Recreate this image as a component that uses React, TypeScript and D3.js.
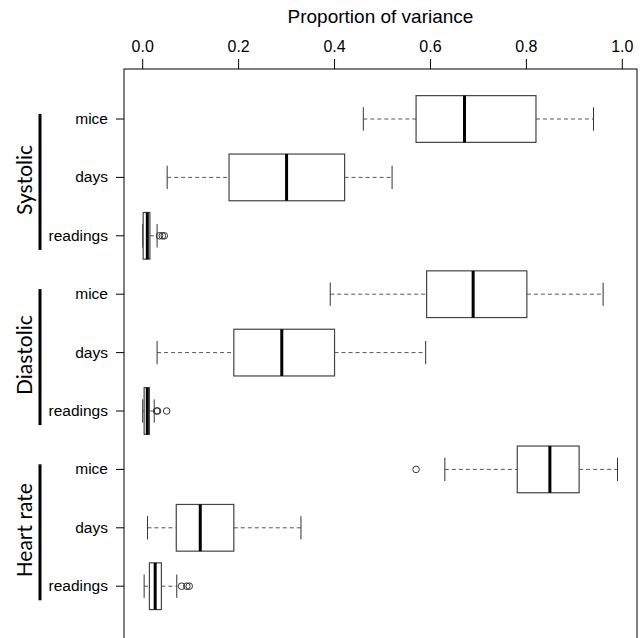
import React from "react";
import * as d3 from "d3";

// groups and rows (top to bottom)
const groups = ["Systolic", "Diastolic", "Heart rate"];
const categories = ["mice", "days", "readings"];

// five-number summaries per row: [lower whisker, Q1, median, Q3, upper whisker]
const whiskLo = [0.46, 0.051, 0.0, 0.391, 0.03, 0.0, 0.63, 0.01, 0.003];
const q1 = [0.57, 0.18, 0.001, 0.592, 0.19, 0.003, 0.781, 0.07, 0.014];
const medians = [0.671, 0.3, 0.0096, 0.689, 0.29, 0.0096, 0.849, 0.12, 0.026];
const q3 = [0.82, 0.421, 0.015, 0.801, 0.4, 0.014, 0.91, 0.19, 0.039];
const whiskHi = [0.94, 0.52, 0.03, 0.96, 0.59, 0.024, 0.99, 0.33, 0.071];
const outliers = [
  [],
  [],
  [0.035, 0.041, 0.045],
  [],
  [],
  [0.029, 0.031, 0.05],
  [0.57],
  [],
  [0.081, 0.092, 0.097],
];

const xTicks = [0, 0.2, 0.4, 0.6, 0.8, 1.0];

export default function App() {
  const W = 642;
  const H = 638;
  const left = 124;
  const right = 637;
  const top = 69;
  const rowStep = 58.4;

  const x = d3.scaleLinear().domain([0, 1]).range([142.7, 622.3]);
  const y = d3.scaleLinear().domain([0, 8]).range([119, 119 + 8 * rowStep]);
  const boxH = rowStep * 0.8;
  const fmt = d3.format(".1f");

  const rows = groups.flatMap((g) => categories.map((c) => ({ g, c })));

  return (
    <svg
      width={W}
      height={H}
      style={{ position: "absolute", left: 0, top: 0, background: "#fff" }}
      fontFamily="'Liberation Sans', Arial, sans-serif"
    >
      {/* title */}
      <text x={(left + right) / 2} y={23} textAnchor="middle" fontSize={19} fill="#000">
        Proportion of variance
      </text>

      {/* top axis */}
      {xTicks.map((t) => (
        <g key={t}>
          <line x1={x(t)} x2={x(t)} y1={59} y2={top} stroke="#000" />
          <text x={x(t)} y={52} textAnchor="middle" fontSize={16} fill="#000">
            {fmt(t)}
          </text>
        </g>
      ))}

      {/* plot frame */}
      <rect x={left} y={top} width={right - left} height={H + 10 - top} fill="none" stroke="#000" />

      {/* row ticks and labels */}
      {rows.map((r, i) => (
        <g key={i}>
          <line x1={116} x2={left} y1={y(i)} y2={y(i)} stroke="#000" />
          <text x={108} y={y(i) + 5} textAnchor="end" fontSize={15.5} fill="#000">
            {r.c}
          </text>
        </g>
      ))}

      {/* group labels */}
      {groups.map((g, gi) => {
        const cy = y(gi * 3 + 1) + 2.5;
        return (
          <g key={g}>
            <line x1={40} x2={40} y1={cy - 66} y2={cy + 70} stroke="#000" strokeWidth={3} />
            <text
              transform={`translate(32,${cy}) rotate(-90)`}
              textAnchor="middle"
              fontSize={21}
              fontFamily="Lato, 'Open Sans', sans-serif"
              fill="#000"
            >
              {g}
            </text>
          </g>
        );
      })}

      {/* boxes */}
      {rows.map((r, i) => {
        const cy = y(i);
        return (
          <g key={"b" + i}>
            <line
              x1={x(whiskLo[i])}
              x2={x(q1[i])}
              y1={cy}
              y2={cy}
              stroke="#555"
              strokeDasharray="4,3"
            />
            <line
              x1={x(q3[i])}
              x2={x(whiskHi[i])}
              y1={cy}
              y2={cy}
              stroke="#555"
              strokeDasharray="4,3"
            />
            <line x1={x(whiskLo[i])} x2={x(whiskLo[i])} y1={cy - boxH / 4} y2={cy + boxH / 4} stroke="#333" />
            <line x1={x(whiskHi[i])} x2={x(whiskHi[i])} y1={cy - boxH / 4} y2={cy + boxH / 4} stroke="#333" />
            <rect
              x={x(q1[i])}
              y={cy - boxH / 2}
              width={x(q3[i]) - x(q1[i])}
              height={boxH}
              fill="#fff"
              stroke="#444"
              strokeWidth={1.2}
            />
            <line
              x1={x(medians[i])}
              x2={x(medians[i])}
              y1={cy - boxH / 2}
              y2={cy + boxH / 2}
              stroke="#000"
              strokeWidth={3}
            />
            {outliers[i].map((o, k) => (
              <circle key={k} cx={x(o)} cy={cy} r={3.3} fill="none" stroke="#333" />
            ))}
          </g>
        );
      })}
    </svg>
  );
}
